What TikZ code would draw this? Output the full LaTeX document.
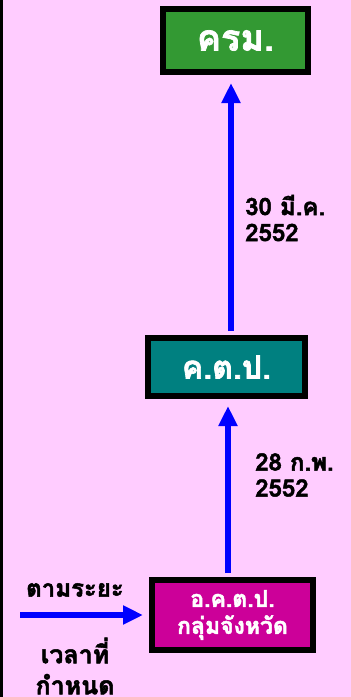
\documentclass[tikz,border=0pt]{standalone}
\usepackage{fontspec}
\setmainfont[Script=Thai, BoldFont={Loma Bold}, BoldFeatures={FakeBold=2}]{Loma}
\usetikzlibrary{arrows.meta}
\definecolor{bgpink}{HTML}{FFCCFF}
\definecolor{boxgreen}{HTML}{339933}
\definecolor{boxteal}{HTML}{008080}
\definecolor{boxmag}{HTML}{CC0099}
\tikzset{
  stagebox/.style={draw=black, line width=6pt, text=white, font=\bfseries, align=center, inner sep=0pt},
  flowarrow/.style={draw=blue, line width=6pt, -{Triangle[width=18pt,length=20pt]}},
  lbl/.style={font=\bfseries\fontsize{24}{26}\selectfont, align=left, anchor=west, inner sep=0pt}
}
\begin{document}
\begin{tikzpicture}[x=1pt,y=-1pt]
\fill[bgpink] (0,0) rectangle (351,697);
\fill[black] (0,0) rectangle (3,697);
\useasboundingbox (0,0) rectangle (351,697);
\node[stagebox, fill=boxgreen, minimum width=145pt, minimum height=63pt, font=\bfseries\fontsize{36}{38}\selectfont] (crm) at (235.5,40.5) {ครม.};
\node[stagebox, fill=boxteal, minimum width=157pt, minimum height=58pt, font=\bfseries\fontsize{32}{34}\selectfont] (ktp) at (226.5,367) {ค.ต.ป.};
\node[stagebox, fill=boxmag, minimum width=161pt, minimum height=70pt, font=\bfseries\fontsize{23}{27}\selectfont] (aktp) at (232.5,615) {อ.ค.ต.ป.\\กลุ่มจังหวัด};
\coordinate (start) at (20,615);
\draw[flowarrow] (aktp.north -| 228,0) ++(0,-4) coordinate (a1) -- (228,406);
\draw[flowarrow] (ktp.north -| 231,0) ++(0,-4) -- (231,83);
\draw[flowarrow] (start) -- (143,615);
\node[lbl] (l1) at (255,475) {28 ก.พ.\\2552};
\node[lbl] (l2) at (245,218) {30 มี.ค.\\2552};
\node[lbl, anchor=center] (l3) at (75,590) {ตามระยะ};
\node[lbl, anchor=center, align=center, font=\bfseries\fontsize{25}{31}\selectfont] (l4) at (75,666) {เวลาที่\\กำหนด};
\end{tikzpicture}
\end{document}
